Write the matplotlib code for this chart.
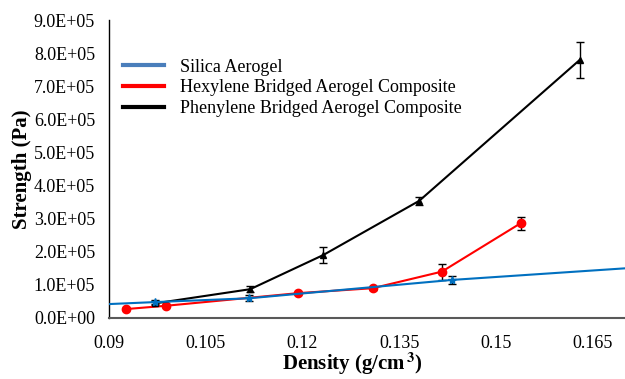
import numpy as np
import matplotlib
matplotlib.use('Agg')
import matplotlib.pyplot as plt
from matplotlib.lines import Line2D
from matplotlib.ticker import FuncFormatter, MultipleLocator

plt.rcParams['font.family'] = ['Liberation Serif', 'DejaVu Serif']
plt.rcParams['mathtext.fontset'] = 'stix'

# silica aerogel (line runs across the whole axis, markers on the measured points)
silica_x = [0.09, 0.0971, 0.1117, 0.1432, 0.17]
silica_y = [4.2e4, 4.8e4, 5.95e4, 1.15e5, 1.5e5]
silica_err = [0, 6e3, 9e3, 1.1e4, 0]

# hexylene bridged
hex_x = [0.0927, 0.0989, 0.1193, 0.1309, 0.1416, 0.1538]
hex_y = [2.7e4, 3.7e4, 7.5e4, 9.0e4, 1.4e5, 2.86e5]
hex_err = [3e3, 4e3, 4e3, 4e3, 2.4e4, 1.9e4]

# phenylene bridged
phe_x = [0.0971, 0.1119, 0.1232, 0.1381, 0.163]
phe_y = [4.4e4, 8.7e4, 1.9e5, 3.54e5, 7.8e5]
phe_err = [6e3, 1e4, 2.4e4, 1.2e4, 5.4e4]

legend_labels = ['Silica Aerogel', 'Hexylene Bridged Aerogel Composite',
                 'Phenylene Bridged Aerogel Composite']

fig = plt.figure(figsize=(6.25, 3.79), dpi=100)
ax = fig.add_axes([0.1744, 0.161, 0.8256, 0.786])

ax.plot(silica_x, silica_y, color='#0070C0', lw=1.5, zorder=3)
ax.errorbar(silica_x[1:4], silica_y[1:4], yerr=silica_err[1:4], fmt='*', color='#0070C0',
            ms=6, ecolor='black', elinewidth=1, capsize=3, capthick=1, zorder=4)

ax.errorbar(hex_x, hex_y, yerr=hex_err, fmt='-o', color='#FF0000', lw=1.5, ms=6,
            ecolor='black', elinewidth=1, capsize=3, capthick=1, zorder=2)

ax.errorbar(phe_x, phe_y, yerr=phe_err, fmt='-^', color='black', lw=1.5, ms=5,
            ecolor='black', elinewidth=1, capsize=3, capthick=1, zorder=2)

ax.set_xlim(0.09, 0.17)
ax.set_ylim(0, 9e5)
ax.xaxis.set_major_locator(MultipleLocator(0.015))
ax.yaxis.set_major_locator(MultipleLocator(1e5))
ax.xaxis.set_major_formatter(FuncFormatter(lambda v, p: ('%.3f' % v).rstrip('0')))
ax.yaxis.set_major_formatter(FuncFormatter(lambda v, p: '%.1E' % v))
ax.tick_params(length=0, labelsize=13)
ax.tick_params(axis='y', pad=10)
ax.tick_params(axis='x', pad=12)

ax.spines['top'].set_visible(False)
ax.spines['right'].set_visible(False)
ax.spines['left'].set_color('black')
ax.spines['left'].set_linewidth(1)
ax.spines['bottom'].set_color('#595959')
ax.spines['bottom'].set_linewidth(1.5)

ax.set_xlabel(r'Density (g/cm$^{\,\mathbf{3}}$)', fontsize=15, fontweight='bold')
ax.xaxis.set_label_coords(0.471, -0.108)
ax.set_ylabel('Strength (Pa)', fontsize=15, fontweight='bold', labelpad=1)

handles = [Line2D([], [], color='#4A7EBB', lw=3),
           Line2D([], [], color='#FF0000', lw=3),
           Line2D([], [], color='black', lw=3)]
ax.legend(handles, legend_labels, loc='upper left', bbox_to_anchor=(-0.005, 0.925),
          frameon=False, fontsize=13, handlelength=2.3, handletextpad=0.9,
          labelspacing=0.2)

fig.savefig('out.png', dpi=100)
